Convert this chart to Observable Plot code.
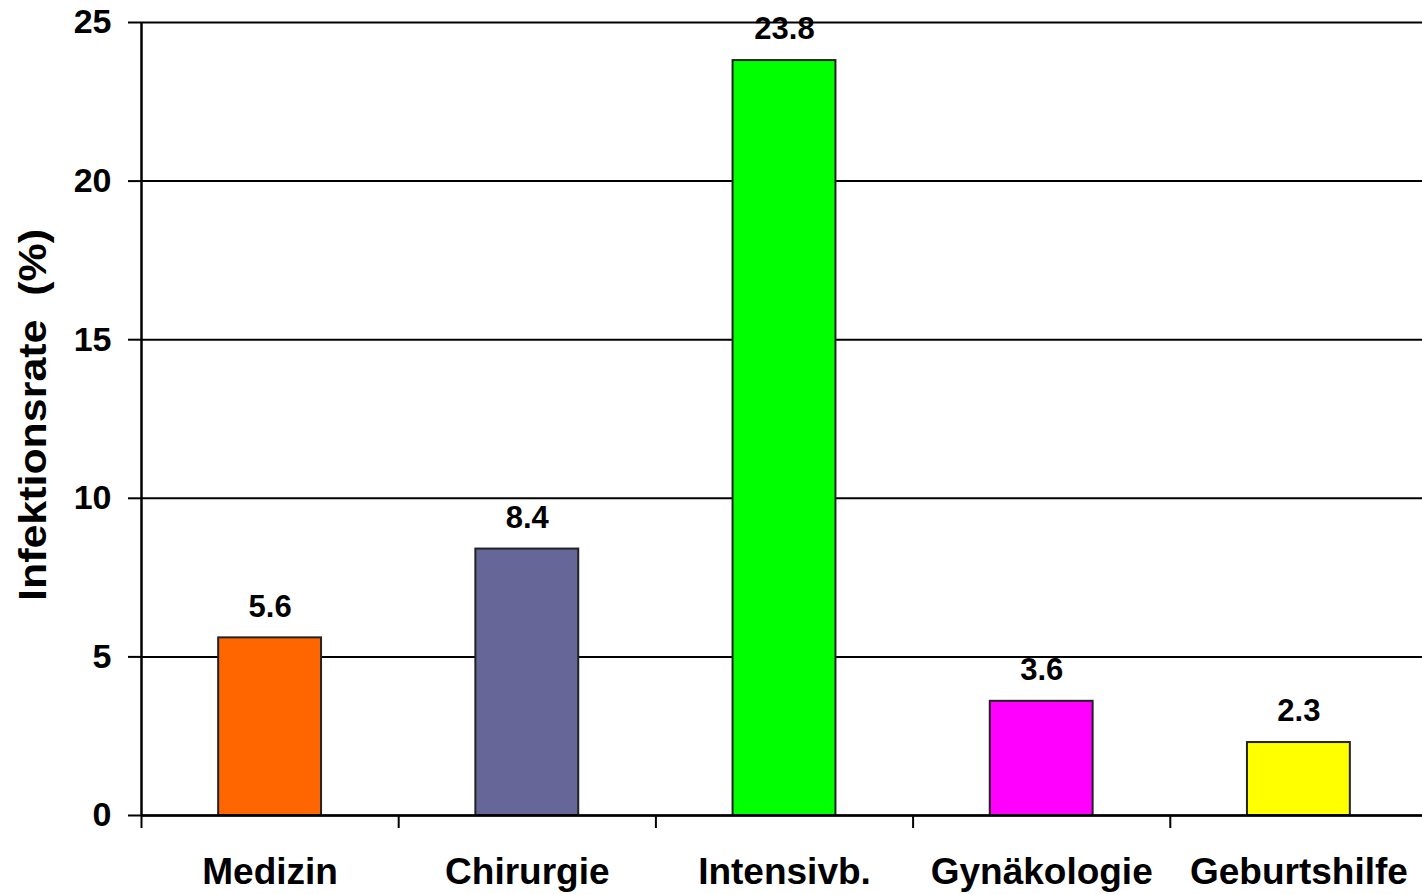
<!DOCTYPE html>
<html>
<head>
<meta charset="utf-8">
<script src="https://cdn.jsdelivr.net/npm/d3@7"></script>
<script src="https://cdn.jsdelivr.net/npm/@observablehq/plot@0.6"></script>
<style>
  html, body { margin: 0; padding: 0; background: #fff; }
  #chart svg { display: block; }
</style>
</head>
<body>
<div id="chart"></div>
<script>
const categories = ["Medizin", "Chirurgie", "Intensivb.", "Gynäkologie", "Geburtshilfe"];
const values = [5.6, 8.4, 23.8, 3.6, 2.3];
const colors = ["#FF6600", "#666699", "#00FF00", "#FF00FF", "#FFFF00"];
const yTicks = [0, 5, 10, 15, 20, 25];
const yLabel = "Infektionsrate\u00a0\u00a0(%)";

const data = categories.map((c, i) => ({ i, category: c, value: values[i], color: colors[i] }));
const boundaries = d3.range(categories.length + 1);
const font = "'Liberation Sans', Arial, sans-serif";

const chart = Plot.plot({
  width: 1422,
  height: 894,
  marginLeft: 140,
  marginRight: 0,
  marginTop: 22,
  marginBottom: 79,
  style: { fontFamily: font, fontWeight: "bold", color: "#000", background: "#fff" },
  x: { domain: [0, categories.length], range: [141, 1427], axis: null },
  y: { domain: [0, 25], axis: null },
  marks: [
    Plot.gridY(yTicks, { stroke: "#000", strokeOpacity: 1, strokeWidth: 2 }),
    Plot.axisY({ ticks: yTicks, label: null, tickSize: 12, tickPadding: 17, tickFormat: d => String(d), fontSize: 34, fontWeight: "bold", stroke: "#000", strokeWidth: 2 }),
    Plot.axisX({ ticks: boundaries, label: null, tickSize: 13, tickFormat: () => "", stroke: "#000", strokeWidth: 2 }),
    Plot.rectY(data, { x1: d => d.i + 0.3, x2: d => d.i + 0.7, y1: 0, y2: "value", fill: "color", stroke: "#222", strokeWidth: 2 }),
    Plot.ruleX([0], { stroke: "#000", strokeWidth: 2.5 }),
    Plot.ruleY([0], { x1: 0, x2: categories.length, stroke: "#000", strokeWidth: 2.5 }),
    Plot.text(data, { x: d => d.i + 0.5, y: "value", text: d => d.value.toFixed(1), dy: -31, fontSize: 31, fontWeight: "bold", fill: "#000" }),
    Plot.text(data, { x: d => d.i + 0.5, y: 0, text: "category", dy: 57, fontSize: 37, fontWeight: "bold", fill: "#000" }),
    Plot.text([yLabel], { className: "ylabel", frameAnchor: "left", textAnchor: "middle", text: d => d, rotate: -90, dx: -107, dy: -4, fontSize: 38, fontWeight: "bold", fill: "#000" })
  ]
});
const lbl = chart.querySelector(".ylabel text");
if (lbl) {
  lbl.setAttribute("textLength", "372");
  lbl.setAttribute("lengthAdjust", "spacingAndGlyphs");
}
document.getElementById("chart").appendChild(chart);
</script>
</body>
</html>
